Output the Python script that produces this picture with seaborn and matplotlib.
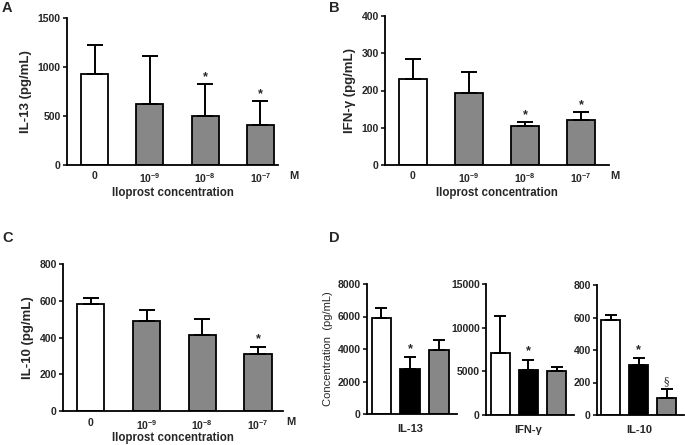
import numpy as np
import pandas as pd
import matplotlib
matplotlib.use("Agg")
import matplotlib.pyplot as plt
import seaborn as sns
from matplotlib.transforms import blended_transform_factory

# ---------------- data ----------------
conc_labels = ["0", "$10^{-9}$", "$10^{-8}$", "$10^{-7}$"]

il13_mean = [930, 625, 505, 405]
il13_upper = [1220, 1115, 825, 655]
il13_sig = ["", "", "*", "*"]

ifng_mean = [231, 192, 104, 121]
ifng_upper = [285, 249, 116, 143]
ifng_sig = ["", "", "*", "*"]

il10_mean = [582, 490, 415, 308]
il10_upper = [613, 550, 500, 350]
il10_sig = ["", "", "", "*"]

d_groups = ["g1", "g2", "g3"]
d_il13_mean = [5890, 2750, 3940]
d_il13_upper = [6500, 3490, 4530]
d_il13_sig = ["", "*", ""]
d_ifng_mean = [7060, 5180, 5060]
d_ifng_upper = [11370, 6300, 5530]
d_ifng_sig = ["", "*", ""]
d_il10_mean = [585, 308, 103]
d_il10_upper = [613, 349, 160]
d_il10_sig = ["", "*", "§"]

conc_colors = ["#ffffff", "#878787", "#878787", "#878787"]
d_colors = ["#ffffff", "#000000", "#878787"]

# ---------------- style ----------------
sns.set_style("ticks")
plt.rcParams["font.family"] = ["Liberation Sans", "DejaVu Sans"]
plt.rcParams["mathtext.fontset"] = "custom"
plt.rcParams["mathtext.rm"] = "Liberation Sans"
plt.rcParams["mathtext.bf"] = "Liberation Sans:bold"
plt.rcParams["mathtext.default"] = "bf"

W, H = 685, 445
fig = plt.figure(figsize=(W / 100, H / 100), dpi=100)


def add_ax(left, right, top, bottom):
    return fig.add_axes([left / W, (H - bottom) / H, (right - left) / W, (bottom - top) / H])


def style_ax(ax, tick_fs, xpad):
    for s in ["top", "right"]:
        ax.spines[s].set_visible(False)
    for s in ["left", "bottom"]:
        ax.spines[s].set_linewidth(1.3)
        ax.spines[s].set_color("black")
    ax.tick_params(axis="y", length=3, width=1.3, labelsize=tick_fs, pad=1.5)
    ax.tick_params(axis="x", length=0, labelsize=tick_fs, pad=xpad)
    for lab in ax.get_yticklabels() + ax.get_xticklabels():
        lab.set_fontweight("bold")


def bars(ax, labels, means, uppers, sigs, colors, width, sig_off, cap, sig_fs=9):
    df = pd.DataFrame({"cat": labels, "val": means})
    sns.barplot(data=df, x="cat", y="val", hue="cat", palette=colors, legend=False,
                width=width, edgecolor="black", linewidth=1.3, saturation=1,
                errorbar=None, ax=ax)
    pos = np.arange(len(labels))
    lower = np.zeros(len(means))
    upper = np.array(uppers) - np.array(means)
    ax.errorbar(pos, means, yerr=[lower, upper], fmt="none", ecolor="black",
                elinewidth=1.4, capsize=cap, capthick=1.4, zorder=1)
    for p, u, s in zip(pos, uppers, sigs):
        if s:
            fam = ["DejaVu Serif"] if s == "§" else None
            ax.text(p, u + sig_off, s, ha="center", va="bottom",
                    fontsize=sig_fs if s == "*" else 8, fontweight="bold" if s == "*" else "normal",
                    family=fam)


def conc_panel(ax, means, uppers, sigs, ylim, yticks, ylabel, xmax, sig_off, xpad, lpad):
    bars(ax, conc_labels, means, uppers, sigs, conc_colors, 0.49, sig_off, 6)
    ax.set_ylim(*ylim)
    ax.set_yticks(yticks)
    ax.set_xlim(-0.5, xmax)
    ax.set_xticks(range(len(conc_labels)))
    ax.set_xticklabels(conc_labels)
    ax.set_ylabel(ylabel, fontsize=9.5, fontweight="bold", labelpad=4)
    ax.set_xlabel("Iloprost concentration", fontsize=8.3, fontweight="bold", labelpad=lpad)
    style_ax(ax, 7.5, xpad)
    tr = blended_transform_factory(ax.transData, ax.transAxes)
    ax.text(len(conc_labels) - 1 + 0.6, -0.075, "M", transform=tr, ha="center", va="center",
            fontsize=8, fontweight="bold")


axA = add_ax(67, 278, 18, 165)
conc_panel(axA, il13_mean, il13_upper, il13_sig, (0, 1500), [0, 500, 1000, 1500],
           "IL-13 (pg/mL)", 3.32, 10, 4.5, 1.5)

axB = add_ax(385, 609, 16, 165)
conc_panel(axB, ifng_mean, ifng_upper, ifng_sig, (0, 400), [0, 100, 200, 300, 400],
           "IFN-γ (pg/mL)", 3.5, 2, 4.5, 1.5)

axC = add_ax(63, 283, 264, 411)
conc_panel(axC, il10_mean, il10_upper, il10_sig, (0, 800), [0, 200, 400, 600, 800],
           "IL-10 (pg/mL)", 3.45, 8, 5, 0)

# ---------------- panel D ----------------
d_specs = [
    ((367, 457, 284, 414), d_il13_mean, d_il13_upper, d_il13_sig, 8000, [0, 2000, 4000, 6000, 8000], "IL-13", 150),
    ((486, 574, 284, 415), d_ifng_mean, d_ifng_upper, d_ifng_sig, 15000, [0, 5000, 10000, 15000], "IFN-γ", 300),
    ((597, 684, 285, 415), d_il10_mean, d_il10_upper, d_il10_sig, 800, [0, 200, 400, 600, 800], "IL-10", 15),
]
d_axes = []
for (l, r, t, b), m, u, s, ymax, yt, name, off in d_specs:
    ax = add_ax(l, r, t, b)
    bars(ax, d_groups, m, u, s, d_colors, 0.68, off, 4)
    ax.set_ylim(0, ymax)
    ax.set_yticks(yt)
    ax.set_xlim(-0.5, 2.62)
    ax.set_xticks([1])
    ax.set_xticklabels([name])
    ax.set_xlabel("")
    ax.set_ylabel("")
    style_ax(ax, 7.5, 7)
    ax.tick_params(axis="x", labelsize=8)
    d_axes.append(ax)
d_axes[0].set_ylabel("Concentration  (pg/mL)", fontsize=8, labelpad=3)

# panel letters
for letter, x, y in [("A", 2, 8), ("B", 329, 8), ("C", 2, 238), ("D", 329, 238)]:
    fig.text(x / W, 1 - y / H, letter, fontsize=10.5, fontweight="bold", ha="left", va="center")

fig.savefig("out.png", dpi=100)
